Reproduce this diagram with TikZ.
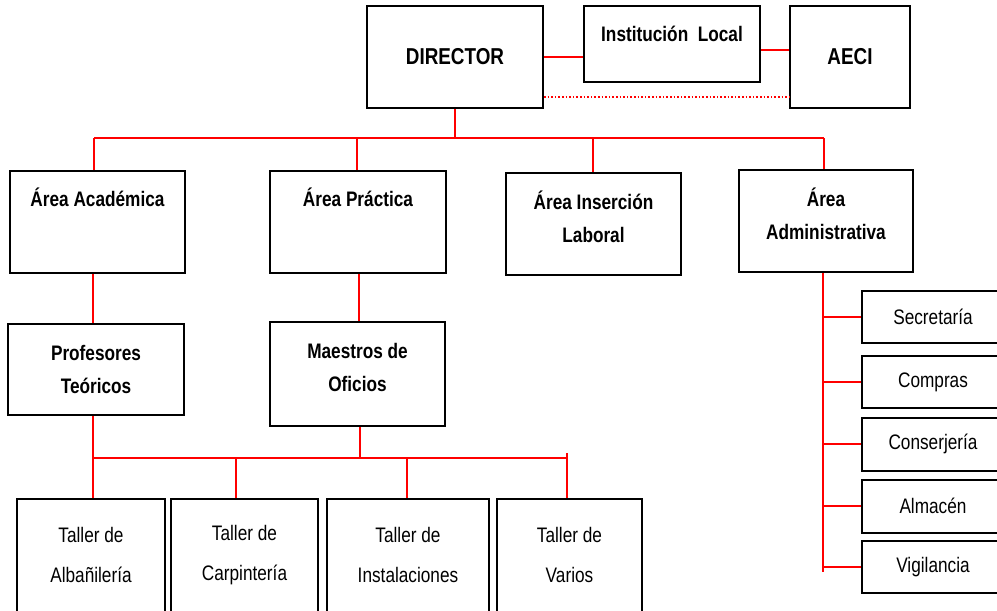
\documentclass[tikz,border=0pt]{standalone}
\usepackage{fontspec}
\setmainfont{Liberation Sans}[FakeStretch=0.82]

\begin{document}
\begin{tikzpicture}[x=1pt,y=-1pt,
		box/.style={draw,line width=2pt,inner sep=0pt},
		head/.style={font=\fontsize{21}{33}\selectfont\bfseries,align=center,inner sep=0pt},
		plain/.style={font=\fontsize{21}{40}\selectfont,align=center,inner sep=0pt},
		link/.style={red,line width=1.8pt},
		dots/.style={red,line width=1.6pt,dotted}]
		\useasboundingbox (0,0) rectangle (997,611);
		% top row
		\node[box,minimum width=176,minimum height=102,font=\fontsize{23}{28}\selectfont\bfseries] (dir) at (455,57) {DIRECTOR};
		\node[box,minimum width=176,minimum height=76] (inst) at (672,44) {};
		\node[head] (insttxt) at (672,34) {Institución~~Local};
		\node[box,minimum width=120,minimum height=102,font=\fontsize{23}{28}\selectfont\bfseries] (aeci) at (850,57) {AECI};
		% areas
		\node[box,minimum width=175,minimum height=102] (acad) at (97.5,222) {};
		\node[head] (acadtxt) at (97.5,197) {Área Académica};
		\node[box,minimum width=176,minimum height=102] (prac) at (358,222) {};
		\node[head] (practxt) at (358,197) {Área Práctica};
		\node[box,minimum width=175,minimum height=102] (inser) at (593.5,224) {};
		\node[head] (insertxt) at (593.5,217) {Área Inserción\\Laboral};
		\node[box,minimum width=174,minimum height=102] (admin) at (826,221) {};
		\node[head] (admintxt) at (826,214) {Área\\Administrativa};
		% second level
		\node[box,minimum width=176,minimum height=91,head] (prof) at (96,369.5) {Profesores\\Teóricos};
		\node[box,minimum width=175,minimum height=104] (maes) at (357.5,374) {};
		\node[head] (maestxt) at (357.5,367) {Maestros de\\Oficios};
		% talleres
		\node[box,minimum width=148,minimum height=140] (alba) at (91,569) {};
		\node[plain] (albatxt) at (91,555) {Taller de\\Albañilería};
		\node[box,minimum width=147,minimum height=140] (carp) at (244.5,569) {};
		\node[plain] (carptxt) at (244.5,555) {Taller de\\Carpintería};
		\node[box,minimum width=162,minimum height=140] (inst2) at (408,569) {};
		\node[plain] (inst2txt) at (408,555) {Taller de\\Instalaciones};
		\node[box,minimum width=145,minimum height=140] (vari) at (569.5,569) {};
		\node[plain] (varitxt) at (569.5,555) {Taller de\\Varios};
		% administracion
		\node[box,minimum width=142,minimum height=52,plain] (secr) at (933,317) {Secretaría};
		\node[box,minimum width=142,minimum height=52,plain] (comp) at (933,382) {Compras};
		\node[box,minimum width=142,minimum height=53,plain] (cons) at (933,444) {Conserjería};
		\node[box,minimum width=142,minimum height=53,plain] (alma) at (933,506) {Almacén};
		\node[box,minimum width=142,minimum height=52,plain] (vigi) at (933,567) {Vigilancia};
		% links
		\draw[link] (dir.east) -- (dir.east -| inst.west);
		\draw[link] ([yshift=-6pt]inst.east) -- ([yshift=-6pt]inst.east -| aeci.west);
		\draw[dots] ([yshift=-40pt]dir.east) -- ([yshift=-40pt]dir.east -| aeci.west);
		\coordinate (bus) at (455,138);
		\draw[link] (dir.south) -- (bus);
		\draw[link] (94,138) -- (824,138);
		\foreach \x/\n in {94/acad,357/prac,593/inser,824/admin}
			\draw[link] (\x,138) -- (\x,138 |- \n.north);
		\draw[link] (93,138 |- acad.south) -- (93,138 |- prof.north);
		\draw[link] (359,138 |- prac.south) -- (359,138 |- maes.north);
		\draw[link] (93,138 |- prof.south) -- (93,138 |- alba.north);
		\draw[link] (360,138 |- maes.south) -- (360,458);
		\draw[link] (93,458) -- (567,458);
		\draw[link] (236,458) -- (236,458 |- carp.north);
		\draw[link] (407,458) -- (407,458 |- inst2.north);
		\draw[link] (567,453) -- (567,453 |- vari.north);
		\draw[link] (823,138 |- admin.south) -- (823,572);
		\foreach \n in {secr,comp,cons,alma,vigi}
			\draw[link] (823,138 |- \n.west) -- (\n.west);
	\end{tikzpicture}
\end{document}
